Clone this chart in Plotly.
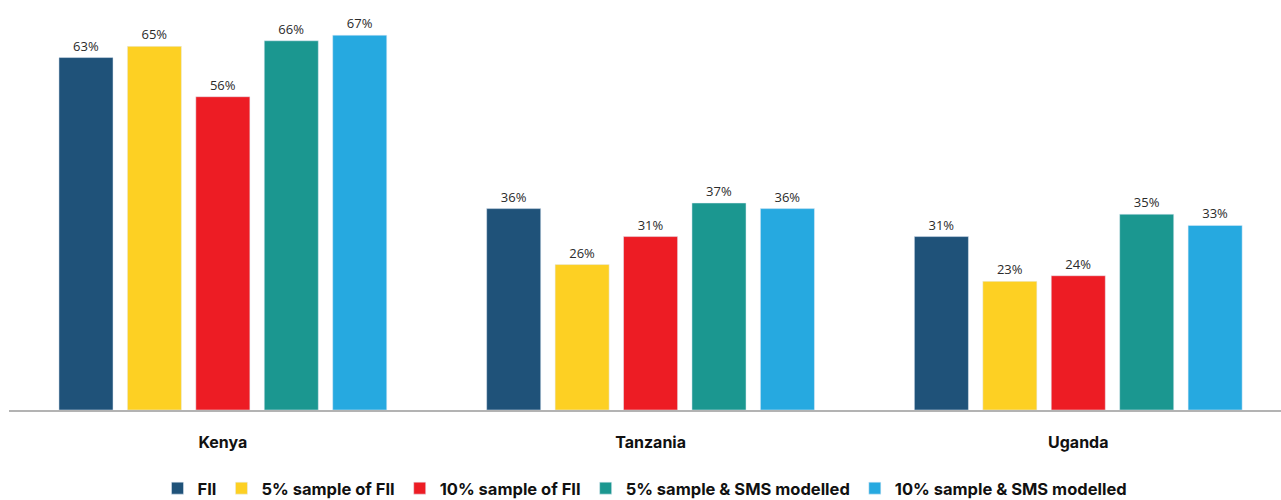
import plotly.graph_objects as go

countries = ["Kenya", "Tanzania", "Uganda"]
series_names = ["FII", "5% sample of FII", "10% sample of FII",
                "5% sample & SMS modelled", "10% sample & SMS modelled"]
fii = [63, 36, 31]
sample5 = [65, 26, 23]
sample10 = [56, 31, 24]
sms5 = [66, 37, 35]
sms10 = [67, 36, 33]
colors = ["#1f5279", "#fdd023", "#ed1c24", "#1b9790", "#26a9e0"]

fig = go.Figure()
for name, vals, col in zip(series_names, [fii, sample5, sample10, sms5, sms10], colors):
    fig.add_trace(go.Bar(
        x=countries, y=vals, name=name, marker_color=col,
        text=[f"{v}%" for v in vals], textposition="outside",
        textfont=dict(family="Open Sans", size=13, color="#2b2b2b"),
        cliponaxis=False,
    ))

fig.update_layout(
    width=1281, height=500,
    margin=dict(l=9, r=0, t=10, b=89.5, autoexpand=False),
    paper_bgcolor="white", plot_bgcolor="white",
    barmode="group", bargap=0.2, bargroupgap=0.21,
    showlegend=True,
    legend=dict(orientation="h", x=0.5, xanchor="center",
                y=-0.196, yanchor="middle",
                font=dict(family="Inter", size=16.5, color="#111111", weight="bold"),
                traceorder="normal", itemwidth=30),
    xaxis=dict(range=[-0.5, 2.474], showline=True, linecolor="#b3b3b3", linewidth=2,
               ticks="", ticklabelstandoff=17,
               tickfont=dict(family="Inter", size=16, color="#111111", weight="bold"),
               showgrid=False, zeroline=False, fixedrange=True),
    yaxis=dict(range=[0, 71.5], visible=False, showgrid=False, zeroline=False),
)
fig.write_html("out.html")
